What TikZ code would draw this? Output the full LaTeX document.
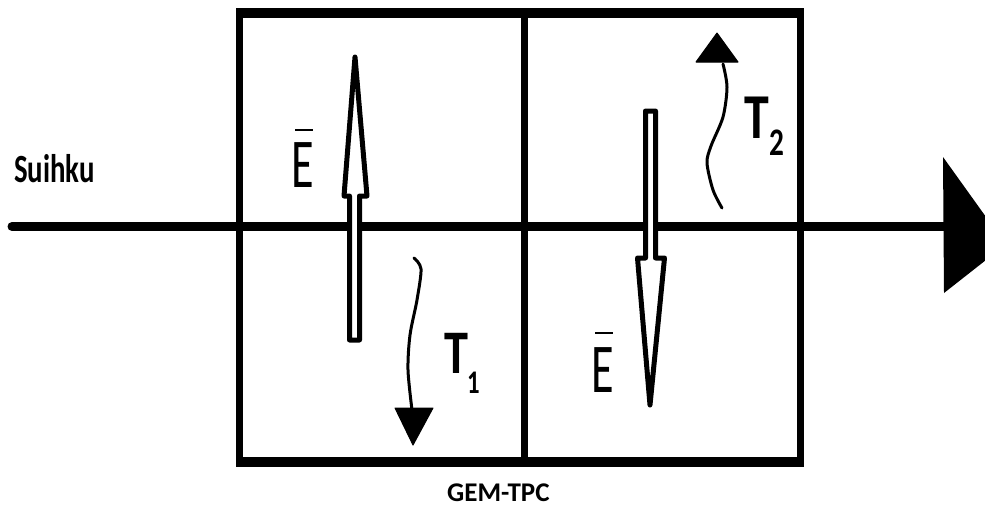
\documentclass[tikz,border=0pt]{standalone}
\usepackage{graphicx}
\usepackage{fontspec}
\setmainfont{Carlito}
\tikzset{
  frame/.style={line width=7pt},
  frameh/.style={line width=10pt},
  axis/.style={line width=9pt, line cap=round},
  efield/.style={line width=5pt, line join=round, fill=white},
  track/.style={line width=3pt, line cap=round},
  tip/.style={fill=black, draw=black, line width=1pt, line join=round},
  lbl/.style={inner sep=0pt, anchor=base west, font=\bfseries},
  elbl/.style={inner sep=0pt, anchor=base west, font=\mdseries},
  ebar/.style={line width=2.5pt}
}
\newcommand{\sqz}[3]{\scalebox{#1}[1]{\fontsize{#2}{#2}\selectfont #3}}
\begin{document}
\begin{tikzpicture}[x=1pt,y=-1pt]
\useasboundingbox (0,0) rectangle (985,506);
\fill[white] (0,0) rectangle (985,506);
\begin{scope}
\clip (0,0) rectangle (985,506);
% frame
\coordinate (tl) at (239.5,12.5);
\coordinate (tr) at (800.5,12.5);
\coordinate (bl) at (239.5,462);
\coordinate (br) at (800.5,462);
\coordinate (mt) at (524.5,12.5);
\coordinate (mb) at (524.5,462);
\draw[frameh] ([xshift=-3.5pt]tl) -- ([xshift=3.5pt]tr);
\draw[frameh] ([xshift=-3.5pt]bl) -- ([xshift=3.5pt]br);
\draw[frame] (tl) -- (bl);
\draw[frame] (tr) -- (br);
\draw[frame] (mt) -- (mb);
% axis
\coordinate (a0) at (12,226.5);
\coordinate (a1) at (948,226.5);
\draw[axis] (a0) -- (a1);
\fill (943,157) -- (986,217) -- (986,260) -- (944,293) -- cycle;
% left E-field arrow (up)
\draw[efield] (349.5,340) -- (349.5,196) -- (344,196) -- (355,57) -- (367,196) -- (359.5,196) -- (359.5,340) -- cycle;
% right E-field arrow (down)
\draw[efield] (645.5,111) -- (645.5,258) -- (637.5,258) -- (650,405) -- (664.5,258) -- (655.5,258) -- (655.5,111) -- cycle;
% T1 track
\draw[track] plot[smooth] coordinates {(414,258) (421,269) (417,300) (410,335) (408,370) (412,410)};
\draw[tip] (395,408) -- (433,408) -- (413,445) -- cycle;
% T2 track
\draw[track] plot[smooth] coordinates {(722,208) (713,190) (707,163) (711,146) (723,117) (727,87) (723,64)};
\draw[tip] (696,62) -- (738,62) -- (717,33) -- cycle;
\end{scope}
% labels
\node[lbl] (suihku) at (14,182) {\sqz{0.72}{40}{Suihku}};
\node[lbl] (gem) at (447,501) {\fontsize{27}{27}\selectfont GEM-TPC};
\node[elbl] (e1) at (291,187) {\sqz{0.66}{70}{E}};
\draw[ebar] (295,130) -- (313,130);
\node[elbl] (e2) at (591,392) {\sqz{0.66}{70}{E}};
\draw[ebar] (595,333) -- (613,333);
\node[lbl] (t1) at (444,373) {\sqz{0.78}{62}{T}};
\node[lbl] (t1s) at (467,393) {\sqz{0.75}{33}{1}};
\node[lbl] (t2) at (744,138) {\sqz{0.78}{64}{T}};
\node[lbl] (t2s) at (769,155) {\sqz{0.75}{39}{2}};
\end{tikzpicture}
\end{document}
